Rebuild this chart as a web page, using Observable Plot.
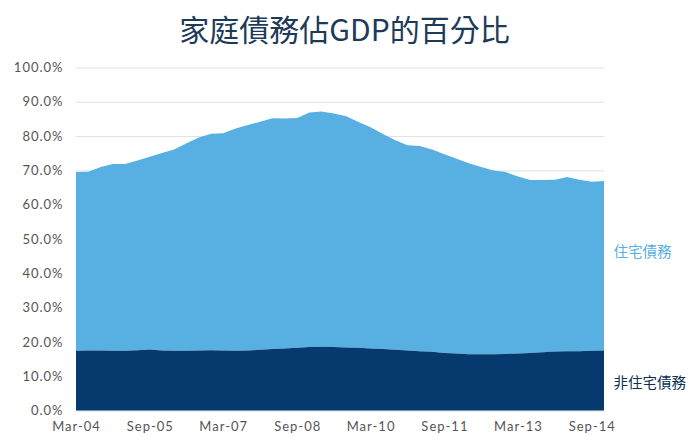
<!DOCTYPE html>
<html>
<head>
<meta charset="utf-8">
<script src="https://cdn.jsdelivr.net/npm/d3@7"></script>
<script src="https://cdn.jsdelivr.net/npm/@observablehq/plot@0.6"></script>
<style>
  body { margin: 0; background: #fff; }
  #wrap { position: relative; width: 689px; height: 435px; }
  #title { position: absolute; left: 0; top: 8px; width: 689px; text-align: center;
    font-family: "Noto Sans CJK TC", "Noto Sans CJK SC", sans-serif; font-size: 30px; color: #1d3a58; line-height: 40px; }
  #chart { position: absolute; left: 0; top: 0; }
  #chart svg g[aria-label="x-axis tick label"] text,
  #chart svg g[aria-label="y-axis tick label"] text { letter-spacing: 1px; }
</style>
</head>
<body>
<div id="wrap">
  <div id="chart"></div>
  <div id="title">家庭債務佔GDP的百分比</div>
</div>
<script>
const titleText = "家庭債務佔GDP的百分比";
const startQuarter = "2004-03-01";
const seriesNames = ["住宅債務", "非住宅債務"];
// percent of GDP, quarterly Mar-04 .. Dec-14
const nonHousing = [17.4,17.5,17.5,17.4,17.4,17.6,17.8,17.5,17.4,17.4,17.5,17.6,17.5,17.4,17.5,17.7,17.9,18.1,18.3,18.5,18.6,18.5,18.4,18.3,18.1,17.9,17.7,17.5,17.3,17.1,16.8,16.6,16.4,16.4,16.4,16.5,16.6,16.8,17.0,17.2,17.3,17.3,17.4,17.5];
const housing = [52.1,52.1,53.5,54.5,54.5,55.3,56.2,57.6,58.7,60.5,62.1,63.1,63.3,64.8,65.7,66.5,67.3,67.0,67.0,68.4,68.6,68.1,67.4,65.8,64.5,62.7,61.1,59.8,59.8,59.0,57.9,56.8,55.7,54.6,53.6,53.0,51.6,50.4,50.2,50.1,50.8,50.0,49.3,49.4];
const yTicks = [0,10,20,30,40,50,60,70,80,90,100];
const xTickLabels = ["Mar-04","Sep-05","Mar-07","Sep-08","Mar-10","Sep-11","Mar-13","Sep-14"];

const start = new Date(startQuarter + "T00:00:00Z");
const rows = nonHousing.map((v, i) => ({
  date: d3.utcMonth.offset(start, 3 * i),
  non: v,
  total: v + housing[i]
}));
const parseLbl = d3.utcParse("%b-%y");
const xTicks = xTickLabels.map(parseLbl);
const last = rows[rows.length - 1];

const labels = [
  {name: seriesNames[0], y: 46.2, color: "#5aafe2"},
  {name: seriesNames[1], y: 8.0, color: "#0d2f52"}
];

const chart = Plot.plot({
  width: 689,
  height: 435,
  marginLeft: 76,
  marginRight: 85,
  marginTop: 67.5,
  marginBottom: 24.5,
  style: {fontFamily: "Lato, 'Noto Sans CJK TC', sans-serif", fontSize: "13px", color: "#555", background: "#fff"},
  x: {type: "utc", domain: [rows[0].date, last.date], ticks: xTicks, tickFormat: d3.utcFormat("%b-%y"), tickSize: 0, tickPadding: 11, label: null},
  y: {domain: [0, 100], ticks: yTicks, tickFormat: d => d.toFixed(1) + "%", tickSize: 0, tickPadding: 13, label: null},
  marks: [
    Plot.gridY(yTicks, {stroke: "#e0e0e0", strokeOpacity: 1, strokeWidth: 1}),
    Plot.areaY(rows, {x: "date", y1: "non", y2: "total", fill: "#58afe2", curve: "linear"}),
    Plot.areaY(rows, {x: "date", y1: 0, y2: "non", fill: "#063a6f", curve: "linear"}),
    Plot.text(labels, {x: () => last.date, y: "y", text: "name", fill: "color", dx: 9, textAnchor: "start",
      fontFamily: "'Noto Sans CJK TC', sans-serif", fontSize: 14.5})
  ]
});
document.getElementById("chart").appendChild(chart);
</script>
</body>
</html>
